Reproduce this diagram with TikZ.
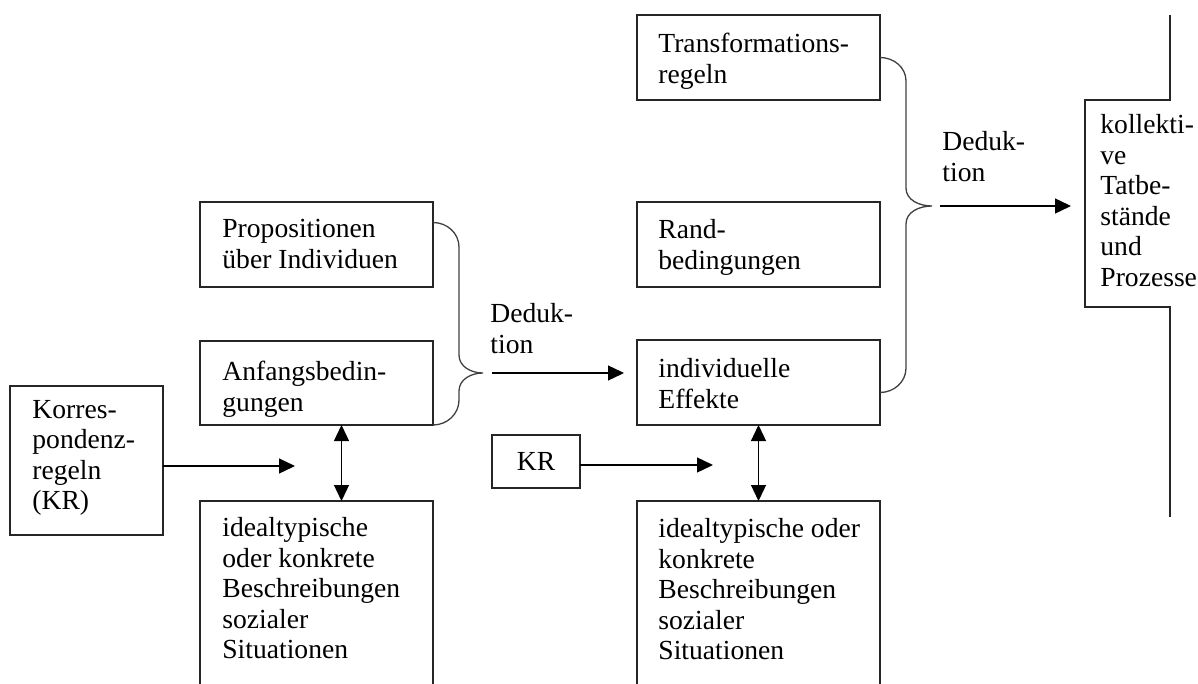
\documentclass[tikz,border=0pt]{standalone}
\usepackage{fontspec}
\setmainfont{Liberation Serif}
\usetikzlibrary{arrows.meta}
\tikzset{
  kasten/.style={draw=black!85,line width=0.7pt,inner sep=0pt,outer sep=0pt,anchor=north west},
  beschr/.style={anchor=north west,inner sep=0pt,align=left,font=\fontsize{13.8}{15.25}\selectfont},
  pfeil/.style={line width=0.65pt,-{Triangle[length=8pt,width=7.5pt]}},
  dpfeil/.style={line width=0.65pt,{Triangle[length=8pt,width=7.5pt]}-{Triangle[length=8pt,width=7.5pt]}},
  klammer/.style={line width=0.65pt,draw=black!75},
}
\begin{document}
\begin{tikzpicture}[x=0.5pt,y=-0.5pt]
        \clip (0,0) rectangle (1198,684);
        % linke Seite
        \node[kasten,minimum width=76.5pt,minimum height=74.5pt] (korr) at (10,386) {};
        \node[beschr] (korrtxt) at ([shift={(22,14)}]korr.north west) {Korres-\\pondenz-\\regeln\\(KR)};
        \node[kasten,minimum width=116.5pt,minimum height=42.5pt] (prop) at (200,202) {};
        \node[beschr] (proptxt) at ([shift={(22,17)}]prop.north west) {Propositionen\\über Individuen};
        \node[kasten,minimum width=116.5pt,minimum height=42pt] (anf) at (200,341) {};
        \node[beschr] (anftxt) at ([shift={(22,20)}]anf.north west) {Anfangsbedin-\\gungen};
        \node[kasten,minimum width=116.5pt,minimum height=100pt] (ideal1) at (200,501) {};
        \node[beschr] (ideal1txt) at ([shift={(22,16)}]ideal1.north west) {idealtypische\\oder konkrete\\Beschreibungen\\sozialer\\Situationen};
        % mittlere Spalte
        \node[kasten,minimum width=121.5pt,minimum height=42.5pt] (trans) at (637,15) {};
        \node[beschr] (transtxt) at ([shift={(21,18)}]trans.north west) {Transformations-\\regeln};
        \node[kasten,minimum width=121.5pt,minimum height=42.5pt] (rand) at (637,202) {};
        \node[beschr] (randtxt) at ([shift={(21,17)}]rand.north west) {Rand-\\bedingungen};
        \node[kasten,minimum width=121.5pt,minimum height=42.5pt] (indiv) at (637,340) {};
        \node[beschr] (indivtxt) at ([shift={(21,18)}]indiv.north west) {individuelle\\Effekte};
        \node[kasten,minimum width=121.5pt,minimum height=100pt] (ideal2) at (637,501) {};
        \node[beschr] (ideal2txt) at ([shift={(21,17)}]ideal2.north west) {idealtypische oder\\konkrete\\Beschreibungen\\sozialer\\Situationen};
        \node[kasten,minimum width=44pt,minimum height=26.5pt,font=\fontsize{13.8}{15.25}\selectfont] (kr) at (492,435) {KR};
        % rechte Seite
        \draw[draw=black!85,line width=0.7pt] (1170,15) -- (1170,100) -- (1085,100) -- (1085,307) -- (1170,307) -- (1170,517);
        \node[beschr] (koll) at (1100,114) {kollekti-\\ve\\Tatbe-\\stände\\und\\Prozesse};
        % Klammern
        \coordinate (brL) at (483,373);
        \coordinate (brR) at (932,206);
        \draw[klammer] ([yshift=11pt]prop.east) to[out=0,in=90] (459,247) -- (459,355) to[out=-90,in=180] (brL)
            to[out=180,in=90] (459,391) -- (459,400) to[out=-90,in=0] (anf.south east);
        \draw[klammer] (trans.east) to[out=0,in=90] (906,81) -- (906,188) to[out=-90,in=180] (brR)
            to[out=180,in=90] (906,224) -- (906,368) to[out=-90,in=0] ([yshift=-5pt]indiv.east);
        % Pfeile
        \coordinate (ded1a) at (492,373);
        \coordinate (ded1b) at (624,373);
        \coordinate (ded2a) at (940,206);
        \coordinate (ded2b) at (1071,206);
        \draw[pfeil] (ded1a) -- (ded1b);
        \draw[pfeil] (ded2a) -- (ded2b);
        \node[beschr] (ded1) at (490,303) {Deduk-\\tion};
        \node[beschr] (ded2) at (942,131) {Deduk-\\tion};
        \coordinate (korrziel) at (295,466);
        \coordinate (krziel) at (713,465);
        \draw[pfeil] (korr.east |- korrziel) -- (korrziel);
        \draw[pfeil] (kr.east |- krziel) -- (krziel);
        \draw[dpfeil] ([xshift=12.5pt]anf.south) -- ([xshift=12.5pt]ideal1.north);
        \draw[dpfeil] (indiv.south) -- (ideal2.north);
\end{tikzpicture}
\end{document}
